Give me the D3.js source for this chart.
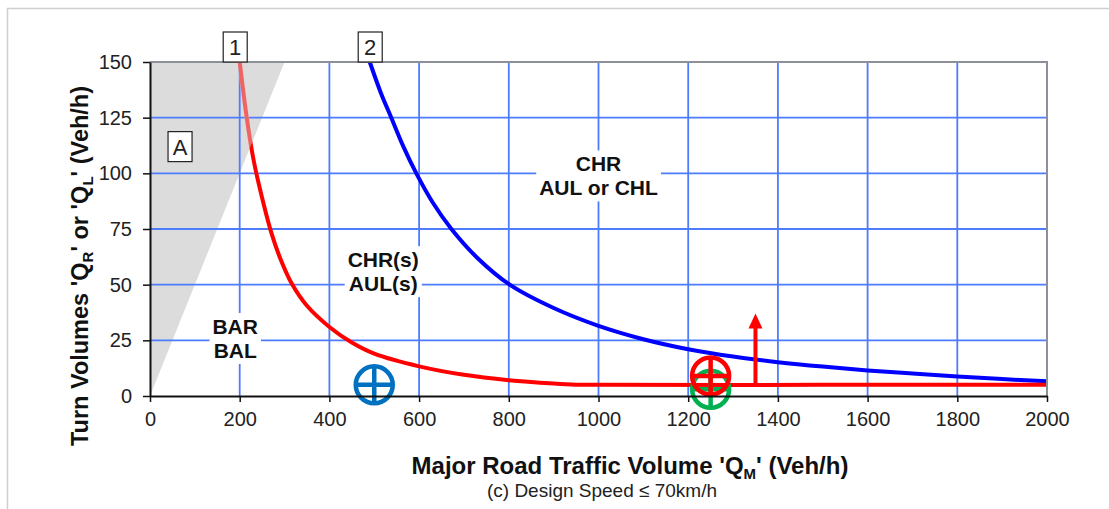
<!DOCTYPE html>
<html>
<head>
<meta charset="utf-8">
<script src="https://cdn.jsdelivr.net/npm/d3@7"></script>
<style>
  body { margin: 0; background: #fff; }
  svg { display: block; font-family: "Liberation Sans", Arial, sans-serif; }
</style>
</head>
<body>
<div id="chart"></div>
<script>
// values
const xTicks = [0, 200, 400, 600, 800, 1000, 1200, 1400, 1600, 1800, 2000];
const yTicks = [0, 25, 50, 75, 100, 125, 150];

// boundary 1 (red) and boundary 2 (blue), [Q_M, Q_R/Q_L]
const curve1 = [[200,150],[215,126],[230,107],[244,94],[271,73],[290,62],[316,50.5],[350,40.5],[400,31],
  [450,24],[500,19],[600,13.3],[700,9.5],[800,7.1],[900,5.6],[950,5.1],[1000,5],[1500,5],[2000,5]];
const curve2 = [[490,150],[515,136],[538,125],[565,112],[595,99.5],[630,87],[672,75],[730,62],[802,50],
  [900,39.5],[1000,31.5],[1100,25.5],[1200,21],[1300,17.7],[1400,15.2],[1500,13.2],[1600,11.5],
  [1700,10.1],[1800,8.8],[1900,7.6],[2000,6.6]];
const areaA = [[0,0],[0,150],[300,150]];

const regionLabels = [
  {lines: ['CHR', 'AUL or CHL'], x: 1000, y: 104},
  {lines: ['CHR(s)', 'AUL(s)'], x: 520, y: 61},
  {lines: ['BAR', 'BAL'], x: 190, y: 31}
];
const boxLabels = [
  {text: '1', x: 190, y: 150, onTop: true},
  {text: '2', x: 491, y: 150, onTop: true},
  {text: 'A', x: 67, y: 112, onTop: false}
];
const markers = [
  {x: 500, y: 5, color: '#0070c0'},
  {x: 1250, y: 3, color: '#00b050'},
  {x: 1250, y: 9, color: '#ff0000'}
];
const arrow = {x: 1350, from: 5, to: 37};

const W = 1109, H = 509;
const svg = d3.select('#chart').append('svg').attr('width', W).attr('height', H);

const x = d3.scaleLinear().domain([0, 2000]).range([150, 1047]);
const y = d3.scaleLinear().domain([0, 150]).range([396, 62]);

// outer frame
svg.append('path')
  .attr('d', `M7.5,${H} L7.5,8.5 L${W},8.5`)
  .attr('fill', 'none').attr('stroke', '#cfcfcf').attr('stroke-width', 1.5);

const line = d3.line().x(d => x(d[0])).y(d => y(d[1])).curve(d3.curveCatmullRom.alpha(0.5));
const poly = d3.line().x(d => x(d[0])).y(d => y(d[1]));

// shaded area A
svg.append('path').attr('d', poly(areaA) + 'Z').attr('fill', '#dcdcdc');

// grid
const grid = svg.append('g').attr('stroke', '#4d7cff').attr('stroke-width', 1.8);
grid.selectAll('.gx').data(xTicks.slice(1, -1)).join('line')
  .attr('x1', d => x(d)).attr('x2', d => x(d)).attr('y1', y(0)).attr('y2', y(150));
grid.selectAll('.gy').data(yTicks.slice(1, -1)).join('line')
  .attr('x1', x(0)).attr('x2', x(2000)).attr('y1', d => y(d)).attr('y2', d => y(d));

// region labels with white backing
regionLabels.forEach(l => {
  const g = svg.append('g');
  const t = g.append('text')
    .attr('text-anchor', 'middle')
    .attr('font-weight', 'bold').attr('font-size', 21).attr('fill', '#111');
  l.lines.forEach((s, i) => {
    t.append('tspan').attr('x', x(l.x)).attr('y', y(l.y) + 7 + i * 24).text(s);
  });
  const bb = t.node().getBBox();
  g.insert('rect', 'text')
    .attr('x', bb.x - 3).attr('y', bb.y - 2)
    .attr('width', bb.width + 6).attr('height', bb.height + 4)
    .attr('fill', '#fff');
});

// curves
svg.append('path').datum(curve2).attr('d', line)
  .attr('fill', 'none').attr('stroke', '#0000ff').attr('stroke-width', 4);
svg.append('path').datum(curve1).attr('d', line)
  .attr('fill', 'none').attr('stroke', '#ff0000').attr('stroke-width', 4);

// gray veil over the part of the red curve inside A
svg.append('clipPath').attr('id', 'clipA')
  .append('path').attr('d', poly(areaA) + 'Z');
svg.append('path').datum(curve1).attr('d', line)
  .attr('clip-path', 'url(#clipA)')
  .attr('fill', 'none').attr('stroke', '#dcdcdc').attr('stroke-opacity', 0.45).attr('stroke-width', 5);

// arrow
svg.append('line')
  .attr('x1', x(arrow.x)).attr('x2', x(arrow.x))
  .attr('y1', y(arrow.from)).attr('y2', y(arrow.to) + 14)
  .attr('stroke', '#ff0000').attr('stroke-width', 4);
svg.append('path')
  .attr('d', `M${x(arrow.x)},${y(arrow.to)} l-7,15 l14,0 Z`)
  .attr('fill', '#ff0000');

// crossed circle markers
markers.forEach(m => {
  const cx = x(m.x), cy = y(m.y), r = 18.5;
  const g = svg.append('g').attr('stroke', m.color).attr('stroke-width', 4.5).attr('fill', 'none');
  g.append('circle').attr('cx', cx).attr('cy', cy).attr('r', r);
  g.append('line').attr('x1', cx - r).attr('x2', cx + r).attr('y1', cy).attr('y2', cy);
  g.append('line').attr('x1', cx).attr('x2', cx).attr('y1', cy - r).attr('y2', cy + r);
});

// top/right border
svg.append('path')
  .attr('d', `M${x(0)},${y(150)} L${x(2000)},${y(150)} L${x(2000)},${y(0)}`)
  .attr('fill', 'none').attr('stroke', '#8c9098').attr('stroke-width', 2);

// axes
const fmt = d3.format('d');
const xAxis = svg.append('g').attr('transform', `translate(0,${y(0)})`)
  .call(d3.axisBottom(x).tickValues(xTicks).tickFormat(fmt).tickSize(6).tickPadding(10).tickSizeOuter(0));
const yAxis = svg.append('g').attr('transform', `translate(${x(0)},0)`)
  .call(d3.axisLeft(y).tickValues(yTicks).tickFormat(fmt).tickSize(7).tickPadding(11).tickSizeOuter(0));
[xAxis, yAxis].forEach(a => {
  a.select('.domain').attr('stroke', '#111').attr('stroke-width', 2);
  a.selectAll('.tick line').attr('stroke', '#111').attr('stroke-width', 1.5);
  a.selectAll('.tick text').attr('font-size', 20).attr('fill', '#222')
    .attr('font-family', '"Liberation Sans", Arial, sans-serif');
});

// boxed labels 1, 2, A
boxLabels.forEach(b => {
  const cx = x(b.x), bw = 24, bh = 30;
  const top = b.onTop ? y(b.y) - bh : y(b.y) - bh / 2;
  svg.append('rect').attr('x', cx - bw / 2).attr('y', top).attr('width', bw).attr('height', bh)
    .attr('fill', '#fff').attr('stroke', '#222').attr('stroke-width', 1.2);
  svg.append('text').attr('x', cx).attr('y', top + bh / 2 + 8)
    .attr('text-anchor', 'middle').attr('font-size', 22).attr('fill', '#222').text(b.text);
});

// axis titles
const xt = svg.append('text').attr('x', 630).attr('y', 474)
  .attr('text-anchor', 'middle').attr('font-weight', 'bold').attr('font-size', 24).attr('fill', '#111');
xt.append('tspan').text("Major Road Traffic Volume 'Q");
xt.append('tspan').attr('font-size', 15).attr('dy', 5).text('M');
xt.append('tspan').attr('dy', -5).text("' (Veh/h)");

svg.append('text').attr('x', 602).attr('y', 497)
  .attr('text-anchor', 'middle').attr('font-size', 19).attr('fill', '#222')
  .text('(c) Design Speed \u2264 70km/h');

const yt = svg.append('text')
  .attr('transform', `translate(88,${266}) rotate(-90)`)
  .attr('text-anchor', 'middle').attr('font-weight', 'bold').attr('font-size', 23.5).attr('fill', '#111');
yt.append('tspan').text("Turn Volumes 'Q");
yt.append('tspan').attr('font-size', 15).attr('dy', 5).text('R');
yt.append('tspan').attr('dy', -5).text("' or 'Q");
yt.append('tspan').attr('font-size', 15).attr('dy', 5).text('L');
yt.append('tspan').attr('dy', -5).text("' (Veh/h)");
</script>
</body>
</html>
